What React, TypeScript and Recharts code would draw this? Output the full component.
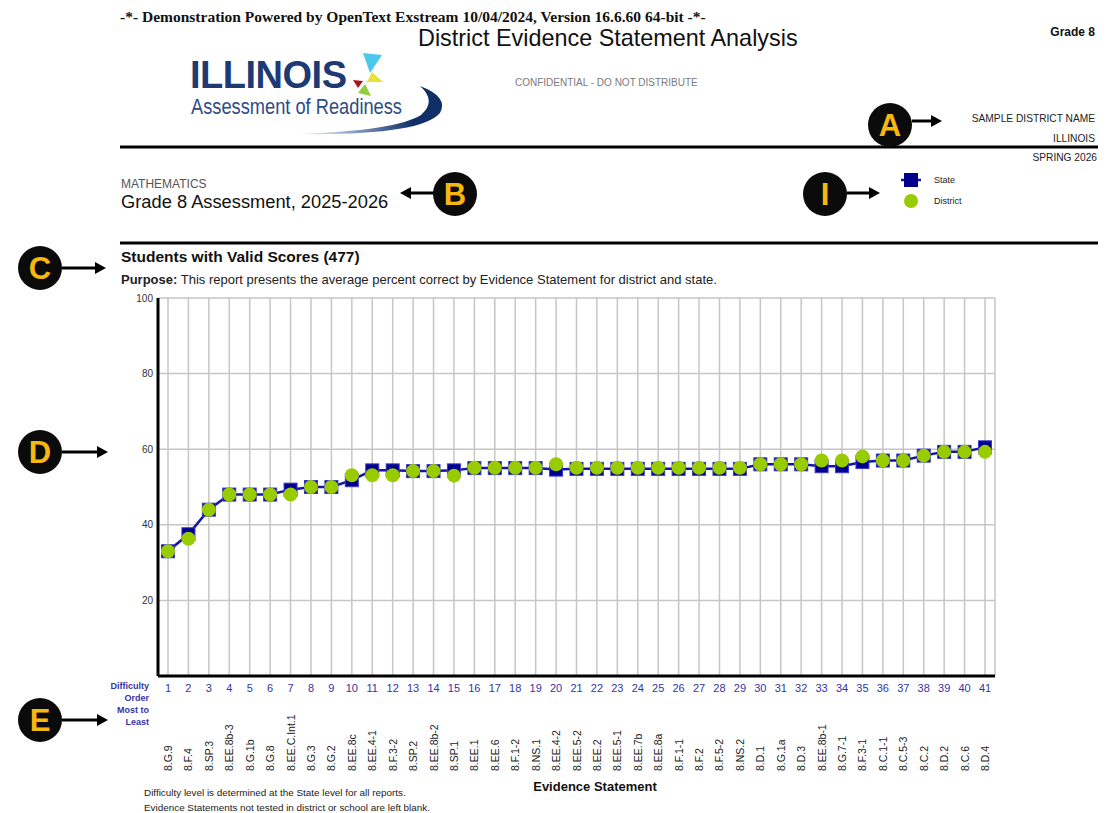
import React from "react";
import {
  ComposedChart,
  Line,
  XAxis,
  YAxis,
  CartesianGrid,
} from "recharts";

// difficulty order (state level), most to least
const ranks = [
  "1", "2", "3", "4", "5", "6", "7", "8", "9", "10",
  "11", "12", "13", "14", "15", "16", "17", "18", "19", "20",
  "21", "22", "23", "24", "25", "26", "27", "28", "29", "30",
  "31", "32", "33", "34", "35", "36", "37", "38", "39", "40", "41",
];

const statements = [
  "8.G.9", "8.F.4", "8.SP.3", "8.EE.8b-3", "8.G.1b", "8.G.8", "8.EE.C.Int.1",
  "8.G.3", "8.G.2", "8.EE.8c", "8.EE.4-1", "8.F.3-2", "8.SP.2", "8.EE.8b-2",
  "8.SP.1", "8.EE.1", "8.EE.6", "8.F.1-2", "8.NS.1", "8.EE.4-2", "8.EE.5-2",
  "8.EE.2", "8.EE.5-1", "8.EE.7b", "8.EE.8a", "8.F.1-1", "8.F.2", "8.F.5-2",
  "8.NS.2", "8.D.1", "8.G.1a", "8.D.3", "8.EE.8b-1", "8.G.7-1", "8.F.3-1",
  "8.C.1-1", "8.C.5-3", "8.C.2", "8.D.2", "8.C.6", "8.D.4",
];

const stateScores = [
  33, 37.5, 44, 48, 48, 48, 49.3, 50, 50, 51.8,
  54.4, 54.4, 54.2, 54.2, 54.4, 55, 55, 55, 55, 54.6,
  54.8, 54.8, 54.8, 54.8, 54.8, 54.8, 54.8, 54.8, 54.8, 56,
  56, 56, 55.5, 55.5, 56.6, 57, 57, 58.3, 59.3, 59.3, 60.5,
];

const districtScores = [
  33, 36.3, 44, 48, 48, 48, 48, 50, 50, 53.1,
  53.1, 53.1, 54.2, 54.2, 53, 55.1, 55.1, 55.1, 55.1, 56,
  55.1, 55.1, 55.1, 55.1, 55.1, 55.1, 55.1, 55.1, 55.1, 56,
  56, 56, 57, 57, 58.1, 57, 57, 58.3, 59.3, 59.3, 59.3,
];

const yTicks = [20, 40, 60, 80, 100];

const data = ranks.map((r, i) => ({
  rank: r,
  statement: statements[i],
  state: stateScores[i],
  district: districtScores[i],
}));

const FONT = "'Liberation Sans', Arial, sans-serif";
const NAVY = "#1d3a74";
const BLUE_TXT = "#3434a8";

function RankTick(props: any) {
  const { x, y, payload, index } = props;
  const label = statements[index] ?? statements[payload.index];
  return (
    <g transform={`translate(${x},${y})`}>
      <text y={16} textAnchor="middle" fill={BLUE_TXT} fontSize={11} fontFamily={FONT}>
        {payload.value}
      </text>
      <text
        transform="translate(4,95) rotate(-90)"
        textAnchor="start"
        fill="#222"
        fontSize={10.5}
        fontFamily={FONT}
      >
        {label}
      </text>
    </g>
  );
}

function StateDot(props: any) {
  const { cx, cy } = props;
  if (cx == null || cy == null) return null;
  return (
    <rect
      x={cx - 6.5}
      y={cy - 6.5}
      width={13}
      height={13}
      fill="#00008c"
      stroke="#3a3ad0"
      strokeWidth={1}
    />
  );
}

function Badge({ cx, cy, letter }: { cx: number; cy: number; letter: string }) {
  return (
    <g>
      <circle cx={cx} cy={cy} r={22} fill="#0b0b0b" />
      <text
        x={cx}
        y={cy + 11}
        textAnchor="middle"
        fill="#f6b70e"
        fontSize={31}
        fontWeight="bold"
        fontFamily={FONT}
      >
        {letter}
      </text>
    </g>
  );
}

function Arrow({ x1, x2, y }: { x1: number; x2: number; y: number }) {
  const dir = x2 > x1 ? 1 : -1;
  const tip = x2;
  const base = x2 - dir * 11;
  return (
    <g>
      <line x1={x1} y1={y} x2={base} y2={y} stroke="#000" strokeWidth={3} />
      <polygon points={`${tip},${y} ${base},${y - 6} ${base},${y + 6}`} fill="#000" />
    </g>
  );
}

function Logo() {
  return (
    <g>
      <text
        x={190}
        y={88}
        fill={NAVY}
        fontSize={38}
        fontWeight="bold"
        fontFamily={FONT}
        textLength={157}
        lengthAdjust="spacing"
      >
        ILLINOIS
      </text>
      <polygon points="363,53 382,55 370,73" fill="#4cc8ee" />
      <polygon points="372,72 383,82 367,82" fill="#e8e23a" />
      <polygon points="365,84 371,96 358,93" fill="#8fcf3a" />
      <polygon points="353,80 363,81 358,88" fill="#a8141b" />
      <defs>
        <linearGradient id="sw" x1="0" x2="1" y1="0" y2="0">
          <stop offset="0" stopColor="#ffffff" />
          <stop offset="0.4" stopColor="#8a9fc4" />
          <stop offset="0.8" stopColor="#0f2f66" />
        </linearGradient>
      </defs>
      <path
        d="M 295 134 Q 420 136 440 113 Q 449 97 420 86 Q 437 101 421 115 Q 395 131 295 134 Z"
        fill="url(#sw)"
      />
      <text
        x={191}
        y={114}
        fill="#2e4b86"
        fontSize={22}
        fontFamily={FONT}
        textLength={211}
        lengthAdjust="spacingAndGlyphs"
      >
        Assessment of Readiness
      </text>
    </g>
  );
}

export default function App() {
  return (
    <div
      style={{
        position: "fixed",
        left: 0,
        top: 0,
        width: 1107,
        height: 813,
        background: "#fff",
        overflow: "hidden",
        fontFamily: FONT,
      }}
    >
      <div style={{ position: "absolute", left: 100, top: 280 }}>
        <ComposedChart
          width={920}
          height={510}
          data={data}
          margin={{ top: 18, right: 25, bottom: 14, left: 0 }}
        >
          <CartesianGrid stroke="#c6c6c6" strokeWidth={1.5} />
          <XAxis
            dataKey="rank"
            interval={0}
            height={100}
            padding={{ left: 10, right: 10 }}
            tickLine={false}
            tickSize={0}
            tickMargin={0}
            axisLine={{ stroke: "#000", strokeWidth: 3 }}
            tick={<RankTick />}
          />
          <YAxis
            domain={[0, 100]}
            ticks={yTicks}
            width={58}
            tickLine={false}
            tickSize={0}
            tickMargin={5}
            axisLine={{ stroke: "#000", strokeWidth: 3 }}
            tick={{ fill: "#333", fontSize: 10, fontFamily: FONT }}
          />
          <YAxis
            yAxisId="frame"
            orientation="right"
            width={0}
            tick={false}
            tickLine={false}
            axisLine={{ stroke: "#c6c6c6", strokeWidth: 1.5 }}
          />
          <Line
            dataKey="state"
            stroke="#1414a6"
            strokeWidth={2.5}
            dot={<StateDot />}
            activeDot={false}
            isAnimationActive={false}
          />
          <Line
            dataKey="district"
            stroke="none"
            dot={{ r: 7, fill: "#99cc00", stroke: "none" }}
            activeDot={false}
            isAnimationActive={false}
          />
        </ComposedChart>
      </div>

      <svg
        width={1107}
        height={813}
        style={{ position: "absolute", left: 0, top: 0, pointerEvents: "none" }}
      >
        <text x={120} y={22} fontSize={15.5} fontWeight="bold" fontFamily="'Liberation Serif', serif" fill="#111">
          -*- Demonstration Powered by OpenText Exstream 10/04/2024, Version 16.6.60 64-bit -*-
        </text>
        <text x={418} y={46} fontSize={23.4} fontFamily={FONT} fill="#111">
          District Evidence Statement Analysis
        </text>
        <text x={1095} y={36} fontSize={12} fontWeight="bold" textAnchor="end" fontFamily={FONT} fill="#111">
          Grade 8
        </text>
        <Logo />
        <text x={515} y={86} fontSize={10} fontFamily={FONT} fill="#7a7a7a">
          CONFIDENTIAL - DO NOT DISTRIBUTE
        </text>
        <text x={1095} y={122} fontSize={10.2} textAnchor="end" fontFamily={FONT} fill="#222">
          SAMPLE DISTRICT NAME
        </text>
        <text x={1095} y={142} fontSize={10.2} textAnchor="end" fontFamily={FONT} fill="#222">
          ILLINOIS
        </text>
        <line x1={120} x2={1098} y1={147} y2={147} stroke="#000" strokeWidth={3} />
        <text x={1097} y={161} fontSize={10.2} textAnchor="end" fontFamily={FONT} fill="#222">
          SPRING 2026
        </text>

        <text x={121} y={188} fontSize={12} fontFamily={FONT} fill="#555">
          MATHEMATICS
        </text>
        <text x={121} y={208} fontSize={18.3} fontFamily={FONT} fill="#111">
          Grade 8 Assessment, 2025-2026
        </text>

        <line x1={901} x2={921} y1={180} y2={180} stroke="#1414a6" strokeWidth={2.5} />
        <rect x={904} y={173} width={14} height={14} fill="#00008c" />
        <text x={934} y={183} fontSize={9} fontFamily={FONT} fill="#222">
          State
        </text>
        <circle cx={911} cy={201} r={7} fill="#99cc00" />
        <text x={934} y={204} fontSize={9} fontFamily={FONT} fill="#222">
          District
        </text>

        <line x1={120} x2={1098} y1={243} y2={243} stroke="#000" strokeWidth={3} />
        <text x={121} y={262} fontSize={15.5} fontWeight="bold" fontFamily={FONT} fill="#111">
          Students with Valid Scores (477)
        </text>
        <text x={121} y={284} fontSize={13} fontFamily={FONT} fill="#222">
          <tspan fontWeight="bold">Purpose:</tspan> This report presents the average percent correct by Evidence Statement for district and state.
        </text>

        <g fontSize={9} fontWeight="bold" fontFamily={FONT} fill={BLUE_TXT} textAnchor="end">
          <text x={149} y={689}>Difficulty</text>
          <text x={149} y={701}>Order</text>
          <text x={149} y={713}>Most to</text>
          <text x={149} y={725}>Least</text>
        </g>
        <text x={595} y={791} fontSize={13} fontWeight="bold" textAnchor="middle" fontFamily={FONT} fill="#111">
          Evidence Statement
        </text>
        <text x={144} y={796} fontSize={9.9} fontFamily={FONT} fill="#222">
          Difficulty level is determined at the State level for all reports.
        </text>
        <text x={144} y={811} fontSize={9.9} fontFamily={FONT} fill="#222">
          Evidence Statements not tested in district or school are left blank.
        </text>

        <Badge cx={890} cy={125} letter="A" />
        <Arrow x1={912} x2={942} y={121} />
        <Badge cx={455} cy={194} letter="B" />
        <Arrow x1={434} x2={400} y={193} />
        <Badge cx={825} cy={194} letter="I" />
        <Arrow x1={847} x2={880} y={193} />
        <Badge cx={40} cy={268} letter="C" />
        <Arrow x1={62} x2={106} y={268} />
        <Badge cx={40} cy={452} letter="D" />
        <Arrow x1={62} x2={108} y={452} />
        <Badge cx={40} cy={720} letter="E" />
        <Arrow x1={62} x2={108} y={720} />
      </svg>
    </div>
  );
}
